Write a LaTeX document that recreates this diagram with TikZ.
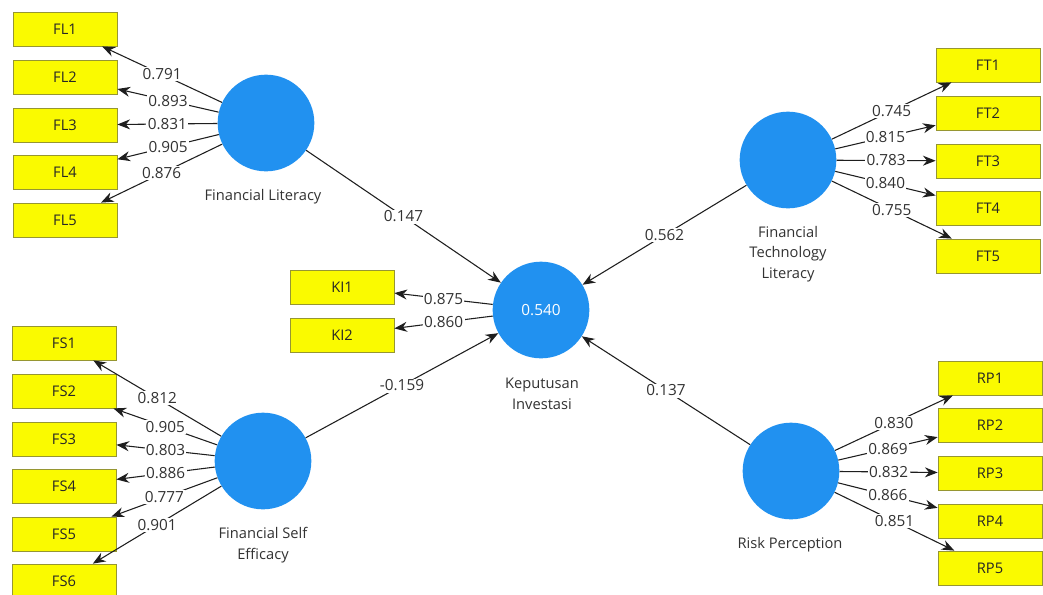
\documentclass[tikz,border=0pt]{standalone}
\usepackage{fontspec}
\setmainfont{Open Sans}
\usetikzlibrary{arrows.meta}
\definecolor{lvblue}{RGB}{33,145,240}
\definecolor{mvyellow}{RGB}{250,250,0}
\definecolor{mvborder}{RGB}{150,150,50}
\definecolor{edgegray}{RGB}{30,30,30}
\definecolor{txtgray}{RGB}{50,50,50}
\begin{document}
\begin{tikzpicture}[x=0.75pt,y=-0.75pt,
  lv/.style={circle,fill=lvblue,draw=none,minimum size=72.5pt,inner sep=0pt,text=white,font=\fontsize{11.5}{13}\selectfont},
  mv/.style={rectangle,fill=mvyellow,draw=mvborder,line width=0.6pt,minimum width=78pt,minimum height=25.5pt,inner sep=0pt,font=\fontsize{11}{12}\selectfont,text=black!85},
  lvlabel/.style={align=center,font=\fontsize{11}{15.5}\selectfont,text=txtgray},
  ld/.style={draw=edgegray,line width=0.8pt,-{Stealth[length=9.5pt,width=7.5pt]}},
  wt/.style={fill=white,inner sep=1pt,font=\fontsize{11.5}{12}\selectfont,text=txtgray,midway}]
\fill[white] (0,0) rectangle (1043,594);
\useasboundingbox (0,0) rectangle (1043,594);

% latent variables
\node[lv] (FL) at (266,123) {};
\node[lv] (FS) at (263,461) {};
\node[lv] (KI) at (541,310) {0.540};
\node[lv] (FT) at (788,160) {};
\node[lv] (RP) at (791,471) {};

% latent labels
\node[lvlabel] (FLl) at (263,197) {Financial Literacy};
\node[lvlabel] (FSl) at (263,545) {Financial Self\\Efficacy};
\node[lvlabel] (KIl) at (542,394) {Keputusan\\Investasi};
\node[lvlabel] (FTl) at (788,254) {Financial\\Technology\\Literacy};
\node[lvlabel] (RPl) at (790,545) {Risk Perception};

% indicators
\node[mv] (FL1) at (65,29) {FL1};
\node[mv] (FL2) at (65,77) {FL2};
\node[mv] (FL3) at (65,125) {FL3};
\node[mv] (FL4) at (65,172) {FL4};
\node[mv] (FL5) at (65,220) {FL5};

\node[mv] (FS1) at (64,343) {FS1};
\node[mv] (FS2) at (64,391) {FS2};
\node[mv] (FS3) at (64,439) {FS3};
\node[mv] (FS4) at (64,486) {FS4};
\node[mv] (FS5) at (64,534) {FS5};
\node[mv] (FS6) at (64,581) {FS6};

\node[mv] (KI1) at (342,287) {KI1};
\node[mv] (KI2) at (342,335) {KI2};

\node[mv] (FT1) at (988,65) {FT1};
\node[mv] (FT2) at (988,113) {FT2};
\node[mv] (FT3) at (988,161) {FT3};
\node[mv] (FT4) at (988,208) {FT4};
\node[mv] (FT5) at (988,256) {FT5};

\node[mv] (RP1) at (990,378) {RP1};
\node[mv] (RP2) at (990,425) {RP2};
\node[mv] (RP3) at (990,473) {RP3};
\node[mv] (RP4) at (990,521) {RP4};
\node[mv] (RP5) at (990,568) {RP5};

% outer loadings
\draw[ld] (FL) -- (FL1) node[wt] {0.791};
\draw[ld] (FL) -- (FL2) node[wt] {0.893};
\draw[ld] (FL) -- (FL3) node[wt] {0.831};
\draw[ld] (FL) -- (FL4) node[wt] {0.905};
\draw[ld] (FL) -- (FL5) node[wt] {0.876};

\draw[ld] (FS) -- (FS1) node[wt] {0.812};
\draw[ld] (FS) -- (FS2) node[wt] {0.905};
\draw[ld] (FS) -- (FS3) node[wt] {0.803};
\draw[ld] (FS) -- (FS4) node[wt] {0.886};
\draw[ld] (FS) -- (FS5) node[wt] {0.777};
\draw[ld] (FS) -- (FS6) node[wt] {0.901};

\draw[ld] (KI) -- (KI1) node[wt] {0.875};
\draw[ld] (KI) -- (KI2) node[wt] {0.860};

\draw[ld] (FT) -- (FT1) node[wt] {0.745};
\draw[ld] (FT) -- (FT2) node[wt] {0.815};
\draw[ld] (FT) -- (FT3) node[wt] {0.783};
\draw[ld] (FT) -- (FT4) node[wt] {0.840};
\draw[ld] (FT) -- (FT5) node[wt] {0.755};

\draw[ld] (RP) -- (RP1) node[wt] {0.830};
\draw[ld] (RP) -- (RP2) node[wt] {0.869};
\draw[ld] (RP) -- (RP3) node[wt] {0.832};
\draw[ld] (RP) -- (RP4) node[wt] {0.866};
\draw[ld] (RP) -- (RP5) node[wt] {0.851};

% path coefficients
\draw[ld] (FL) -- (KI) node[wt] {0.147};
\draw[ld] (FT) -- (KI) node[wt] {0.562};
\draw[ld] (FS) -- (KI) node[wt] {-0.159};
\draw[ld] (RP) -- (KI) node[wt] {0.137};
\end{tikzpicture}
\end{document}
